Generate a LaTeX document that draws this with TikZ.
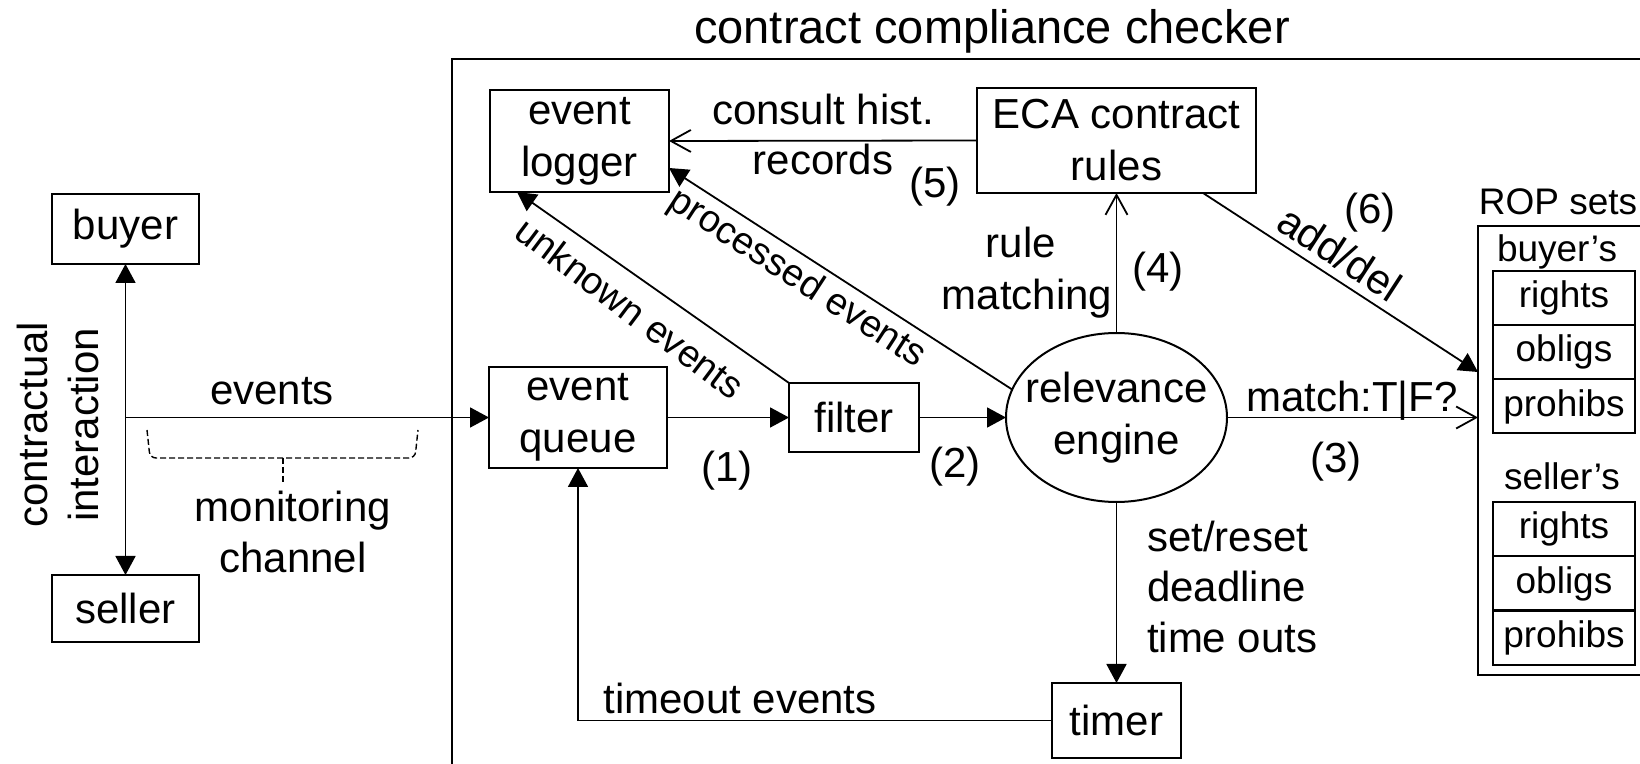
\documentclass[tikz,border=0pt]{standalone}
\usepackage{fontspec}
\setmainfont{Liberation Sans}
\usetikzlibrary{arrows.meta,shapes.geometric,calc}

\newcommand\lblsize{\fontsize{21}{26}\selectfont}
\newcommand\ropsize{\fontsize{18.5}{23}\selectfont}
\newcommand\slantsize{\fontsize{19}{23}\selectfont}
\newcommand\titlesize{\fontsize{23.5}{28}\selectfont}

\begin{document}
\begin{tikzpicture}[x=0.5pt,y=-0.5pt,
  every node/.style={inner sep=0pt, outer sep=0pt},
  lbl/.style={font=\lblsize},
  box/.style={draw, line width=1pt, align=center, font=\lblsize},
  row/.style={draw, line width=1pt, minimum width=71pt, minimum height=27pt, font=\ropsize},
  solid tip/.style={-{Triangle[length=9.5pt,width=10pt]}},
  open tip/.style={-{Straight Barb[length=10pt,width=11pt]}},
  conn/.style={line width=0.9pt},
  brace/.style={line width=0.7pt, dash pattern=on 3pt off 1.5pt},
]
\clip (0,0) rectangle (1640,764);

% outer frame of the checker (runs off the right and bottom edges)
\draw[line width=1pt] (452,800) -- (452,59) -- (1700,59);
\node[font=\titlesize, anchor=base] (title) at (992,44) {contract compliance checker};

% parties
\node[box, minimum width=73.5pt, minimum height=35pt] (buyer) at (125.5,229) {buyer};
\node[box, minimum width=73.5pt, minimum height=33.5pt] (seller) at (125.5,608.5) {seller};

% checker components
\node[box, minimum width=89.5pt, minimum height=51pt] (logger) at (579.5,141) {event\\logger};
\node[box, minimum width=89pt, minimum height=50.5pt] (queue) at (578,417.5) {event\\queue};
\node[box, minimum width=65pt, minimum height=34.5pt] (filter) at (854,417.5) {filter};
\node[draw, ellipse, line width=1pt, minimum width=110.5pt, minimum height=84.5pt,
      align=center, font=\lblsize] (engine) at (1116.5,417.5)
      {\makebox[0pt]{relevance}\\\makebox[0pt]{engine}};
\node[box, minimum width=139.5pt, minimum height=52.5pt] (eca) at (1116.5,140.5) {ECA contract\\rules};
\node[box, minimum width=64.5pt, minimum height=37.5pt] (timer) at (1116.5,720.5) {timer};

% ROP sets
\node[draw, line width=1pt, minimum width=111pt, minimum height=224.5pt] (rop) at (1589,450.5) {};
\node[font=\ropsize, anchor=base] (ropttl) at (1558,215) {ROP sets};
\node[font=\ropsize, anchor=base] (bttl) at (1557,262) {buyer’s};
\node[row] (brights) at (1564,298) {rights};
\node[row] (bobligs) at (1564,352) {obligs};
\node[row] (bprohibs) at (1564,406.5) {prohibs};
\node[font=\ropsize, anchor=base] (sttl) at (1562,490) {seller’s};
\node[row] (srights) at (1564,529) {rights};
\node[row] (sobligs) at (1564,583.5) {obligs};
\node[row] (sprohibs) at (1564,638) {prohibs};

% connectors
\draw[conn, {Triangle[length=9.5pt,width=10pt]}-{Triangle[length=9.5pt,width=10pt]}] (buyer) -- (seller);
\coordinate (tap) at (buyer.south |- queue.west);
\draw[conn, solid tip] (tap) -- (queue.west);
\draw[conn, solid tip] (queue.east) -- (filter.west);
\draw[conn, solid tip] (filter.east) -- (engine.west);
\draw[conn, solid tip] (filter.north west) -- ($(logger.south west)+(27,0)$);
\draw[conn, solid tip] (engine.165) -- ($(logger.east)+(0,27)$);
\draw[conn, open tip] (eca.west) -- (logger.east);
\draw[conn, open tip] (engine.north) -- (eca.south);
\draw[conn, solid tip] ($(eca.south east)+(-53,0)$) -- ($(rop.north west)+(0,146)$);
\draw[conn, open tip] (engine.east) -- (engine.east -| rop.west);
\draw[conn, solid tip] (engine.south) -- (timer.north);
\draw[conn, solid tip] (timer.west) -| (queue.south);

% monitoring channel brace
\draw[brace, rounded corners=3pt] (147,430) -- (150,458) -- (415,458) -- (418,430);
\draw[brace] (283,458) -- (283,485);

% labels
\node[lbl, anchor=base] (evlbl) at (272,405) {events};
\node[lbl, anchor=base] (mon1) at (293,522) {monitoring};
\node[lbl, anchor=base] (mon2) at (293,573) {channel};
\node[lbl, anchor=base, rotate=90] (ci1) at (47,425) {contractual};
\node[lbl, anchor=base, rotate=90] (ci2) at (98,425) {interaction};
\node[lbl, anchor=base] (cons1) at (823,125) {consult hist.};
\node[lbl, anchor=base] (cons2) at (823,175) {records};
\node[lbl] (n5) at (935,187) {(5)};
\node[lbl, anchor=base] (rm1) at (1021,258) {rule};
\node[lbl, anchor=base] (rm2) at (1027,310) {matching};
\node[lbl] (n4) at (1158,272) {(4)};
\node[lbl] (n1) at (727,471) {(1)};
\node[lbl] (n2) at (955,467) {(2)};
\node[lbl] (n3) at (1336,462) {(3)};
\node[lbl] (n6) at (1370,213) {(6)};
\node[lbl, anchor=base] (mtch) at (1352,412) {match:T|F?};
\node[font=\slantsize, rotate=-37] (unk) at (630,308) {unknown events};
\node[font=\slantsize, rotate=-33] (proc) at (797,279) {processed events};
\node[lbl, rotate=-33] (adddel) at (1340,253) {add/del};
\node[lbl, anchor=base] (tmo) at (740,713) {timeout events};
\node[lbl, anchor=base west] (sr1) at (1147,552) {set/reset};
\node[lbl, anchor=base west] (sr2) at (1147,602) {deadline};
\node[lbl, anchor=base west] (sr3) at (1147,653) {time outs};
\end{tikzpicture}
\end{document}
